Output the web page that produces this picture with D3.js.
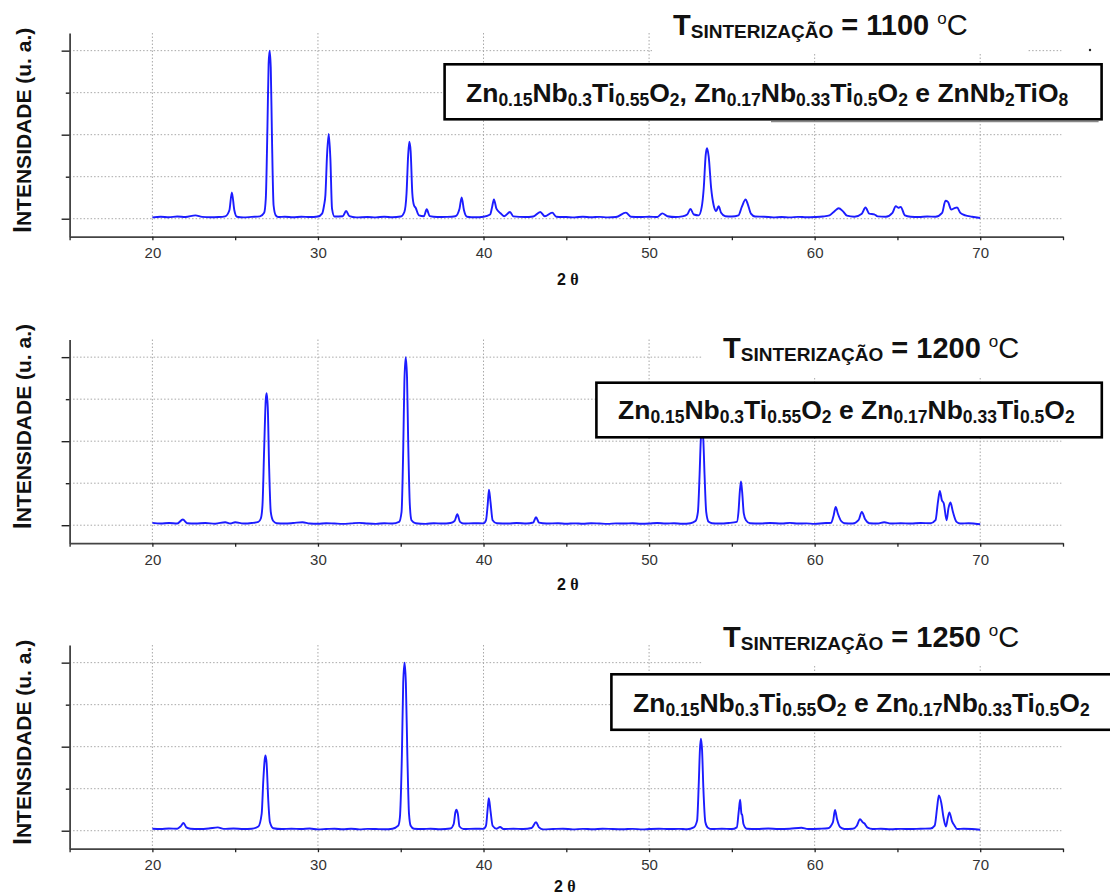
<!DOCTYPE html>
<html>
<head>
<meta charset="utf-8">
<script src="https://cdn.jsdelivr.net/npm/d3@7"></script>
<style>
  body { margin: 0; background: #fff; }
  text { font-family: "Liberation Sans", Arial, sans-serif; white-space: pre; }
</style>
</head>
<body>
<div id="chart"></div>
<script>
// Sintering temperatures, one panel each
const temperatures = [1100, 1200, 1250];

// Phases identified in each pattern (_{..} marks a subscript)
const phaseLabels = [
    'Zn_{0.15}Nb_{0.3}Ti_{0.55}O_{2}, Zn_{0.17}Nb_{0.33}Ti_{0.5}O_{2} e ZnNb_{2}TiO_{8}',
    'Zn_{0.15}Nb_{0.3}Ti_{0.55}O_{2} e Zn_{0.17}Nb_{0.33}Ti_{0.5}O_{2}',
    'Zn_{0.15}Nb_{0.3}Ti_{0.55}O_{2} e Zn_{0.17}Nb_{0.33}Ti_{0.5}O_{2}'
];

// Axis ticks
const xTickValues = [15, 20, 25, 30, 35, 40, 45, 50, 55, 60, 65, 70, 75];
const xTickLabels = [20, 30, 40, 50, 60, 70];
const yTickValues = [0, 25, 50, 75, 100];

// XRD patterns: [2 theta, intensity (u. a., max = 100)]
const xrd1100 = [
    [20.0, 0.8], [20.5, 1.2], [21.0, 0.9], [21.5, 1.3], [22.0, 1.0], [22.6, 2.0], [23.0, 1.1], [23.5, 0.9],
    [24.0, 1.0], [24.4, 1.4], [24.65, 5], [24.8, 15.7], [24.95, 5], [25.1, 1.2], [25.5, 0.8], [26.0, 1.1],
    [26.5, 1.4], [26.75, 3.5], [26.85, 12], [26.95, 55], [27.02, 92], [27.08, 100], [27.15, 90], [27.22, 50],
    [27.32, 8], [27.45, 2], [27.6, 1.0], [28.0, 1.2], [28.5, 0.9], [29.0, 1.2], [29.5, 1.0], [30.0, 1.3],
    [30.25, 3], [30.37, 8], [30.45, 14], [30.55, 38], [30.65, 50.4], [30.75, 36], [30.85, 6], [31.0, 1.3],
    [31.5, 1.5], [31.7, 4.6], [31.9, 1.5], [32.3, 0.8], [33.0, 1.0], [33.5, 0.8], [34.0, 1.2], [34.5, 0.9],
    [35.0, 1.3], [35.22, 4], [35.35, 15], [35.45, 38], [35.52, 45.8], [35.6, 40], [35.7, 15], [35.8, 8],
    [35.9, 6.5], [36.1, 2], [36.4, 1.5], [36.57, 5.6], [36.75, 1.5], [37.2, 1.0], [37.8, 1.1], [38.3, 1.5],
    [38.55, 6], [38.68, 12.7], [38.82, 5], [39.0, 1.2], [39.5, 0.9], [40.0, 1.2], [40.4, 2.5], [40.52, 7],
    [40.63, 11.5], [40.78, 6], [41.06, 3], [41.25, 1.5], [41.6, 4], [41.8, 1.4], [42.5, 1.0], [43.0, 1.3],
    [43.43, 4], [43.7, 1.5], [44.15, 3.6], [44.4, 1.2], [45.0, 1.0], [45.5, 0.8], [46.0, 1.2], [46.5, 0.9],
    [47.0, 1.1], [47.5, 0.8], [48.0, 1.0], [48.6, 3.6], [48.9, 1.2], [49.5, 1.0], [50.0, 1.2], [50.5, 1.0],
    [50.8, 3.2], [51.1, 1.5], [51.6, 1.0], [52.0, 1.4], [52.3, 2.5], [52.5, 5.8], [52.7, 2.5], [53.0, 2],
    [53.18, 7], [53.3, 18], [53.42, 38], [53.5, 41.9], [53.6, 37], [53.75, 18], [53.9, 8], [54.05, 4.5],
    [54.2, 7.5], [54.35, 3.5], [54.6, 1.5], [55.0, 1.3], [55.4, 2], [55.6, 7], [55.83, 11.5], [55.95, 9],
    [56.15, 3], [56.4, 1.3], [56.95, 1.2], [57.5, 0.8], [58.0, 1.0], [58.5, 0.8], [59.0, 1.1], [59.5, 0.9],
    [60.0, 1.0], [60.5, 1.3], [60.9, 2], [61.2, 4.5], [61.45, 6.2], [61.7, 4.5], [61.95, 1.8], [62.4, 1.2],
    [62.85, 3], [63.07, 6.7], [63.3, 3], [63.6, 2.6], [63.8, 1.4], [64.3, 1.2], [64.7, 3.5], [64.9, 7.5],
    [65.05, 6.5], [65.2, 7], [65.45, 2], [65.8, 1.2], [66.3, 1.0], [66.8, 1.3], [67.3, 1.2], [67.7, 3.5],
    [67.9, 10.7], [68.05, 10.0], [68.25, 5.5], [68.45, 6.3], [68.6, 6.7], [68.8, 3.5], [69.1, 2], [69.5, 1.2],
    [70.0, 0.4]
];

const xrd1200 = [
    [20.0, 1.4], [20.5, 1.0], [21.0, 1.3], [21.5, 1.0], [21.84, 3.4], [22.1, 1.2], [22.6, 1.0], [23.2, 1.3],
    [23.8, 0.9], [24.4, 1.8], [24.7, 1.0], [25.0, 1.8], [25.5, 1.0], [26.0, 1.3], [26.4, 2], [26.55, 4],
    [26.65, 12], [26.75, 45], [26.85, 75], [26.9, 78.6], [26.97, 70], [27.05, 35], [27.15, 8], [27.3, 2.5],
    [27.5, 1.2], [28.0, 1.0], [28.5, 1.3], [29.07, 1.8], [29.5, 1.0], [30.0, 0.9], [30.5, 1.2], [31.0, 1.0],
    [31.5, 0.8], [32.0, 1.1], [32.5, 1.4], [33.0, 1.0], [33.5, 0.8], [34.0, 1.2], [34.5, 1.0], [34.9, 2],
    [35.05, 8], [35.15, 45], [35.22, 85], [35.3, 100], [35.38, 88], [35.45, 50], [35.55, 12], [35.65, 3],
    [35.9, 1.2], [36.5, 0.8], [37.0, 1.2], [37.5, 1.0], [38.0, 1.3], [38.25, 2.5], [38.42, 6.5], [38.58, 2],
    [38.8, 1.0], [39.4, 1.2], [40.0, 1.1], [40.15, 3], [40.25, 12], [40.33, 21.2], [40.42, 14], [40.55, 3],
    [40.8, 1.2], [41.5, 1.0], [42.0, 1.3], [42.6, 1.0], [43.0, 1.6], [43.17, 4.8], [43.35, 1.5], [43.8, 1.0],
    [44.5, 1.2], [45.0, 0.9], [45.5, 1.1], [46.0, 0.9], [46.5, 1.2], [47.0, 1.0], [47.5, 0.8], [48.0, 1.1],
    [48.5, 1.0], [49.0, 1.2], [49.5, 0.9], [50.0, 1.0], [50.5, 1.3], [51.0, 1.0], [51.5, 1.2], [52.0, 0.9],
    [52.5, 1.2], [52.8, 2.5], [52.95, 8], [53.05, 30], [53.12, 50], [53.2, 58], [53.28, 50], [53.35, 30],
    [53.45, 8], [53.6, 2], [53.8, 1.2], [54.2, 1.0], [54.8, 1.3], [55.3, 2], [55.4, 8], [55.48, 20],
    [55.55, 26.1], [55.62, 20], [55.72, 7], [55.85, 3], [56.1, 1.2], [56.7, 1.0], [57.3, 1.3], [58.0, 1.0],
    [58.5, 1.4], [59.0, 1.0], [59.5, 1.1], [60.0, 0.8], [60.5, 1.2], [61.0, 1.5], [61.15, 6], [61.27, 10.9],
    [61.4, 7], [61.6, 2.5], [61.8, 1.2], [62.3, 1.0], [62.65, 3], [62.85, 7.9], [63.05, 3.5], [63.3, 1.2],
    [63.8, 1.0], [64.2, 1.8], [64.6, 1.0], [65.2, 1.2], [65.8, 1.0], [66.4, 1.3], [67.0, 1.2], [67.3, 3],
    [67.45, 14], [67.56, 20.4], [67.68, 15], [67.8, 12.9], [67.97, 3], [68.08, 10], [68.2, 13.5], [68.35, 8],
    [68.57, 2], [68.8, 1.0], [69.3, 1.2], [69.7, 0.9], [70.0, 0.6]
];

const xrd1250 = [
    [20.0, 1.2], [20.5, 1.0], [21.0, 1.3], [21.5, 1.2], [21.7, 2.5], [21.88, 4.6], [22.05, 2], [22.3, 1.2],
    [22.8, 1.0], [23.4, 1.3], [23.95, 2], [24.3, 1.1], [24.9, 1.3], [25.5, 1.0], [26.0, 1.2], [26.4, 2.5],
    [26.6, 10], [26.7, 30], [26.78, 42], [26.83, 44.8], [26.9, 40], [27.0, 18], [27.1, 5], [27.3, 1.5],
    [27.8, 1.0], [28.4, 1.2], [29.0, 1.0], [29.5, 1.3], [30.0, 0.8], [30.5, 1.0], [31.0, 1.2], [31.5, 0.9],
    [32.0, 1.2], [32.5, 0.8], [33.0, 1.1], [33.5, 1.0], [34.0, 0.9], [34.5, 1.2], [34.85, 3], [34.95, 8],
    [35.07, 45], [35.15, 88], [35.23, 100], [35.31, 88], [35.4, 45], [35.5, 10], [35.6, 3], [35.8, 1.2],
    [36.3, 1.0], [36.8, 1.2], [37.4, 0.9], [38.0, 1.3], [38.2, 4], [38.3, 11], [38.36, 12.5], [38.45, 10],
    [38.55, 2.5], [38.8, 1.0], [39.5, 1.2], [40.0, 1.1], [40.15, 3], [40.25, 13], [40.32, 19.4], [40.42, 12],
    [40.55, 3], [40.8, 1.2], [41.0, 2.2], [41.2, 1.0], [41.8, 1.2], [42.4, 1.0], [42.9, 1.6], [43.17, 5],
    [43.35, 2], [43.6, 0.8], [44.2, 1.0], [44.8, 1.2], [45.4, 0.8], [46.0, 1.1], [46.6, 0.9], [47.2, 1.2],
    [47.8, 1.0], [48.4, 0.9], [49.0, 1.1], [49.6, 0.8], [50.0, 1.0], [50.6, 1.2], [51.2, 1.0], [51.8, 1.1],
    [52.3, 0.9], [52.7, 2], [52.9, 6], [53.0, 28], [53.07, 48], [53.13, 54.7], [53.2, 48], [53.28, 25],
    [53.4, 5], [53.55, 1.8], [53.8, 1.0], [54.4, 1.2], [55.0, 1.0], [55.3, 2], [55.42, 12], [55.5, 18.4],
    [55.58, 10], [55.62, 9.5], [55.7, 4], [55.9, 1.2], [56.5, 1.0], [57.2, 1.3], [57.8, 1.0], [58.5, 1.2],
    [59.2, 1.8], [59.6, 1.0], [60.3, 1.2], [60.8, 1.5], [61.1, 5], [61.23, 12.3], [61.35, 7], [61.55, 2],
    [61.8, 1.0], [62.3, 1.2], [62.55, 3], [62.74, 6.9], [62.9, 5], [63.0, 4.4], [63.2, 1.8], [63.5, 1.0],
    [64.0, 1.2], [64.6, 0.9], [65.2, 1.1], [65.8, 1.0], [66.4, 1.2], [67.0, 1.3], [67.25, 3], [67.4, 14],
    [67.5, 21], [67.65, 16.5], [67.78, 8], [67.93, 2.5], [68.05, 8], [68.14, 10.9], [68.3, 5.5], [68.45, 3],
    [68.6, 1.0], [69.0, 1.2], [69.5, 1.0], [70.0, 0.6]
];

const patterns = [xrd1100, xrd1200, xrd1250];

// Page and panel layout
const width = 1110;
const height = 895;
const panelShift = [0, 306.5, 612];
const plotTop = 33;
const plotBottom = 236.7;
const axisColor = '#444';
const gridColor = '#a8a8a8';
const lineColor = '#1c1cff';
const font = '"Liberation Sans", Arial, sans-serif';

// per-panel placement of title, phase box and axis labels
const titlePos = [{ x: 673, y: 35 }, { x: 723, y: 358 }, { x: 723, y: 647 }];
const titleMask = [
    { x: 652, y: 0, w: 375, h: 52 },
    { x: 703, y: 325, w: 363, h: 51.5 },
    { x: 703, y: 625, w: 363, h: 40 }
];
const boxPos = [
    { x: 444.6, y: 64.3, w: 657, h: 55, tx: 466, ty: 101.5 },
    { x: 596.4, y: 382.7, w: 505.4, h: 54.6, tx: 618, ty: 419 },
    { x: 611.4, y: 674.3, w: 520, h: 55.5, tx: 633, ty: 711.7 }
];
const yLabelStart = [233, 529.3, 845];
const xLabelPos = [{ x: 557, y: 285 }, { x: 557, y: 590 }, { x: 554, y: 891.5 }];

const svg = d3.select('#chart')
    .append('svg')
    .attr('width', width)
    .attr('height', height);

// Shared 2 theta scale
const xScale = d3.scaleLinear()
    .domain([15, 75])
    .range([69.6, 1063]);

// Rich text helper: plain runs and _{subscript} runs
function richText(textSel, str, size, subSize, subShift) {
    const parts = str.split(/_\{([^}]*)\}/);
    let shifted = false;
    parts.forEach((p, i) => {
        if (p === '') return;
        const isSub = i % 2 === 1;
        const ts = textSel.append('tspan')
            .attr('font-size', isSub ? subSize : size)
            .text(p);
        if (isSub && !shifted) { ts.attr('dy', subShift); shifted = true; }
        if (!isSub && shifted) { ts.attr('dy', -subShift); shifted = false; }
    });
}

temperatures.forEach((temp, i) => {
    const shift = panelShift[i];
    const g = svg.append('g').attr('class', 'panel');

    const yScale = d3.scaleLinear()
        .domain([-10.7, 110.5])
        .range([plotBottom + shift, plotTop + shift]);

    // Dotted grid
    g.append('g')
        .selectAll('line')
        .data(yTickValues)
        .enter()
        .append('line')
        .attr('x1', xScale(15))
        .attr('x2', xScale(74.9))
        .attr('y1', d => yScale(d))
        .attr('y2', d => yScale(d))
        .attr('stroke', gridColor)
        .attr('stroke-dasharray', '1.5,2');

    g.append('g')
        .selectAll('line')
        .data(xTickLabels)
        .enter()
        .append('line')
        .attr('x1', d => xScale(d))
        .attr('x2', d => xScale(d))
        .attr('y1', plotTop + shift)
        .attr('y2', plotBottom + shift)
        .attr('stroke', gridColor)
        .attr('stroke-dasharray', '1.5,2');

    // Axes
    const xAxis = d3.axisBottom(xScale)
        .tickValues(xTickValues)
        .tickSize(3.5)
        .tickSizeOuter(0)
        .tickPadding(7.5)
        .tickFormat(d => xTickLabels.includes(d) ? d : '');

    const xg = g.append('g')
        .attr('transform', `translate(0, ${plotBottom + shift})`)
        .call(xAxis);
    xg.select('.domain').attr('stroke', axisColor).attr('stroke-width', 1.8);
    xg.selectAll('.tick line').attr('stroke', '#222').attr('stroke-width', 1.3);
    xg.selectAll('.tick text')
        .attr('font-family', font)
        .attr('font-size', 15)
        .attr('fill', '#333');

    const yAxis = d3.axisLeft(yScale)
        .tickValues(yTickValues)
        .tickSizeOuter(0)
        .tickFormat('');

    const yg = g.append('g')
        .attr('transform', `translate(${xScale(15)}, 0)`)
        .call(yAxis);
    yg.select('.domain').attr('stroke', axisColor).attr('stroke-width', 1.8);
    yg.selectAll('.tick line')
        .attr('x2', d => d % 50 === 0 ? -8 : -3.8)
        .attr('stroke', '#222')
        .attr('stroke-width', 1.4);

    // Diffraction pattern
    const line = d3.line()
        .x(d => xScale(d[0]))
        .y(d => yScale(d[1]))
        .curve(d3.curveMonotoneX);

    g.append('path')
        .datum(patterns[i])
        .attr('d', line)
        .attr('fill', 'none')
        .attr('stroke', lineColor)
        .attr('stroke-width', 1.9)
        .attr('stroke-linejoin', 'round');

    // Title with white background
    const m = titleMask[i];
    g.append('rect')
        .attr('x', m.x).attr('y', m.y)
        .attr('width', m.w).attr('height', m.h)
        .attr('fill', '#fff');

    const title = g.append('text')
        .attr('x', titlePos[i].x)
        .attr('y', titlePos[i].y)
        .attr('font-weight', 'bold')
        .attr('fill', '#111');
    title.append('tspan').attr('font-size', 29).text('T');
    title.append('tspan').attr('font-size', 19).attr('dy', 3).text('SINTERIZAÇÃO');
    title.append('tspan').attr('font-size', 29).attr('dy', -3).text(` = ${temp} `);
    title.append('tspan').attr('font-size', 17).attr('font-weight', 'normal').attr('dy', -11).text('o');
    title.append('tspan').attr('font-size', 29).attr('font-weight', 'normal').attr('dy', 11).text('C');

    // Phase box
    const b = boxPos[i];
    if (i === 0) {
        // faint drop shadow under the first box, and a stray dot
        g.append('line')
            .attr('x1', 771).attr('x2', b.x + b.w - 3)
            .attr('y1', b.y + b.h + 2.3).attr('y2', b.y + b.h + 2.3)
            .attr('stroke', '#888')
            .attr('stroke-width', 1.2);
        g.append('circle')
            .attr('cx', 1090).attr('cy', 50).attr('r', 1.2)
            .attr('fill', '#222');
    }
    g.append('rect')
        .attr('x', b.x).attr('y', b.y)
        .attr('width', b.w).attr('height', b.h)
        .attr('fill', '#fff')
        .attr('stroke', '#000')
        .attr('stroke-width', 2.6);

    const phase = g.append('text')
        .attr('x', b.tx)
        .attr('y', b.ty)
        .attr('font-weight', 'bold')
        .attr('fill', '#111');
    richText(phase, phaseLabels[i], 26.5, 17.5, 4);

    // Y label: large I, then smaller caps
    const yl = g.append('text')
        .attr('transform', `translate(30.5, ${yLabelStart[i]}) rotate(-90)`)
        .attr('font-weight', 'bold')
        .attr('fill', '#111');
    yl.append('tspan').attr('font-size', 25).text('I');
    yl.append('tspan').attr('font-size', 21).text('NTENSIDADE (u. a.)');

    // X label
    const xl = g.append('text')
        .attr('x', xLabelPos[i].x)
        .attr('y', xLabelPos[i].y)
        .attr('font-weight', 'bold')
        .attr('font-size', 16)
        .attr('fill', '#111');
    xl.append('tspan').text('2 ');
    xl.append('tspan').attr('font-family', '"Liberation Serif", serif').text('θ');
});
</script>
</body>
</html>
